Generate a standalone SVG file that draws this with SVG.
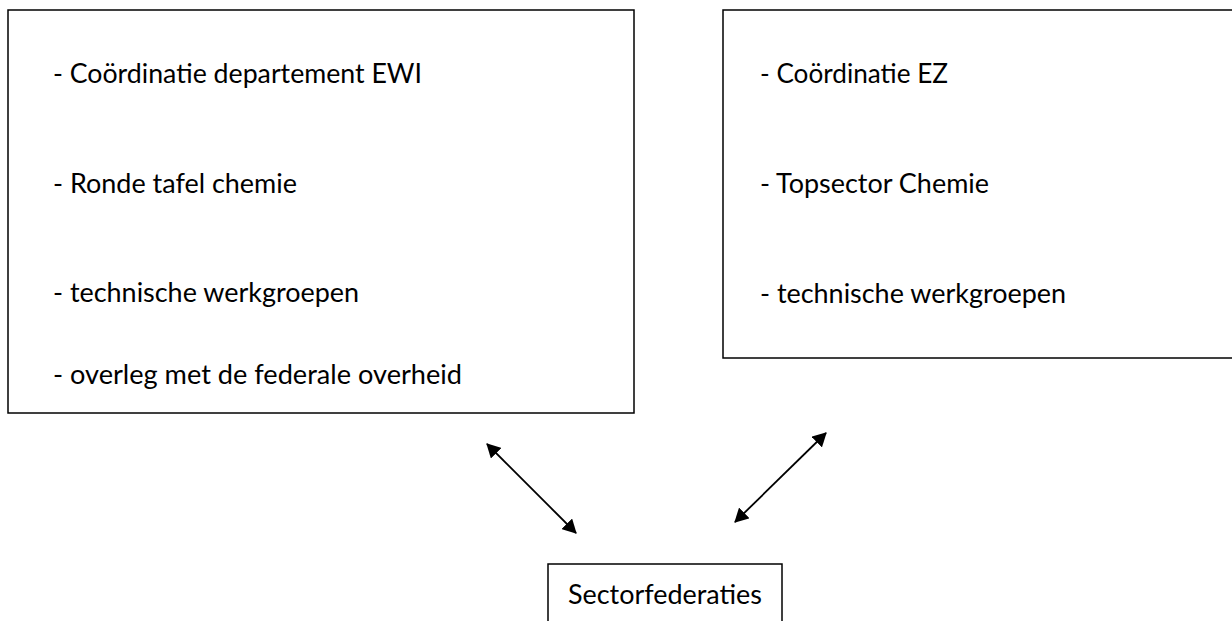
<svg xmlns="http://www.w3.org/2000/svg" width="1232" height="621" viewBox="0 0 1232 621">
<defs>
<style>
.box{fill:#fff;stroke:#000;stroke-width:1.5}
.t{font-family:Lato,"Liberation Sans",Arial,sans-serif;font-size:27px;fill:#000}
.c{stroke:#000;stroke-width:1.8;fill:none}
</style>
<marker id="ah" viewBox="0 0 14 15" refX="13" refY="7.5" markerWidth="14" markerHeight="15" orient="auto-start-reverse" markerUnits="userSpaceOnUse">
<path d="M0,0 L14,7.5 L0,15 z" fill="#000"/>
</marker>
</defs>
<rect width="1232" height="621" fill="#fff"/>
<g id="ewi">
<rect class="box" x="8" y="10" width="626" height="403"/>
<text class="t" x="53" y="83" textLength="369" lengthAdjust="spacingAndGlyphs">- Coördinatie departement EWI</text>
<text class="t" x="53" y="193" textLength="244" lengthAdjust="spacingAndGlyphs">- Ronde tafel chemie</text>
<text class="t" x="53" y="302" textLength="306" lengthAdjust="spacingAndGlyphs">- technische werkgroepen</text>
<text class="t" x="53" y="384" textLength="409" lengthAdjust="spacingAndGlyphs">- overleg met de federale overheid</text>
</g>
<g id="ez">
<rect class="box" x="723" y="10" width="520" height="348"/>
<text class="t" x="760" y="83" textLength="188" lengthAdjust="spacingAndGlyphs">- Coördinatie EZ</text>
<text class="t" x="760" y="193" textLength="229" lengthAdjust="spacingAndGlyphs">- Topsector Chemie</text>
<text class="t" x="760" y="303" textLength="306" lengthAdjust="spacingAndGlyphs">- technische werkgroepen</text>
</g>
<g id="sector">
<rect class="box" x="548" y="564" width="234" height="70"/>
<text class="t" x="568" y="604" textLength="194" lengthAdjust="spacingAndGlyphs">Sectorfederaties</text>
</g>
<g id="connectors">
<line class="c" x1="487" y1="444" x2="576" y2="533" marker-start="url(#ah)" marker-end="url(#ah)"/>
<line class="c" x1="826" y1="433" x2="735" y2="522" marker-start="url(#ah)" marker-end="url(#ah)"/>
</g>
</svg>
